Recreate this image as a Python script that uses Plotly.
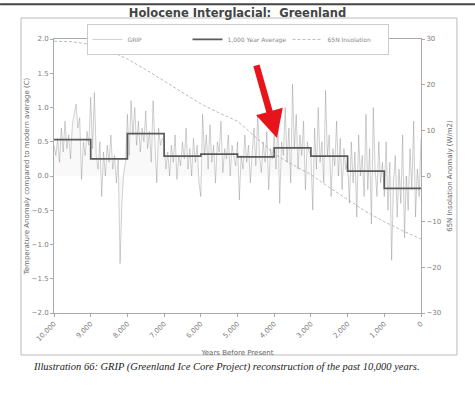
import plotly.graph_objects as go

# ---- data ----
years_grip = [10000 - 50 * i for i in range(201)]
grip = [
    # 10000-9050
    0.45, 0.3, 0.55, 0.2, 0.7, 0.35, 0.8, 0.4, 0.6, 0.25, 0.75, 0.9, 1.05, 0.7, 0.85, -0.05, 0.5, 0.3, 0.65, 0.45,
    # 9000-8050
    1.15, 0.4, 1.22, 0.3, 0.1, 0.5, -0.3, 0.35, 0.0, 0.45, 0.2, 0.6, 0.1, 0.3, -0.1, 0.25, -1.28, -0.4, 0.05, 0.2,
    # 8000-7050
    0.9, 0.3, 1.1, 0.6, 1.0, 0.45, 0.8, 0.35, 0.7, 0.5, 0.95, 0.4, 0.65, 0.2, 1.1, 0.5, -0.1, 0.7, 0.45, 0.55,
    # 7000-6050
    0.5, 0.1, 0.35, 0.0, 0.45, 0.2, 0.6, -0.05, 0.3, 0.15, 0.5, 0.25, 0.7, 0.1, 0.4, 0.0, 0.55, 0.2, 0.45, -0.1,
    # 6000-5050
    -0.3, 0.9, 0.3, 0.6, 0.1, 0.75, 0.2, 0.45, -0.1, 0.5, 0.35, 0.8, 0.05, 0.4, 0.25, 0.6, 0.0, 0.45, 0.3, 0.15,
    # 5000-4050
    0.5, -0.35, 0.3, 0.1, 0.6, 0.2, 0.45, -0.1, 0.35, 0.7, 0.15, 0.9, 0.3, 0.05, 0.5, 0.2, 0.65, -0.2, 0.4, 0.25,
    # 4000-3050
    0.6, 0.1, 0.85, -0.4, 0.5, 0.3, 1.0, 0.2, 0.7, -0.1, 1.34, 0.4, 0.9, 0.1, 0.6, 0.3, 0.8, -0.2, 0.5, 0.35,
    # 3000-2050
    0.3, -0.5, 0.7, 0.1, 1.0, 0.2, 0.5, -0.1, 1.25, 0.3, 0.6, -0.3, 0.4, 0.15, 0.8, 0.0, 0.55, -0.2, 0.4, 0.1,
    # 2000-1050
    0.2, -0.4, 0.5, -0.1, 0.35, -0.6, 0.6, 0.0, 0.3, -0.3, 0.9, -0.2, 0.4, -0.7, 1.0, 0.1, -0.3, 0.5, -0.1, 0.2,
    # 1000-50
    -0.3, 0.5, -0.5, 0.2, -1.23, -0.1, 0.3, -0.6, 0.1, -0.4, 0.6, -0.9, 0.0, -0.5, 0.4, -0.2, 0.8, -0.6, 0.1, -0.3,
    # 0
    0.55,
]

avg_years = [10000, 9000, 8000, 7000, 6000, 5000, 4000, 3000, 2000, 1000, 0]
avg_temp = [0.53, 0.25, 0.62, 0.29, 0.32, 0.28, 0.41, 0.29, 0.07, -0.18, -0.18]

ins_years = [10000, 9500, 9000, 8500, 8000, 7500, 7000, 6500, 6000, 5500, 5000,
             4500, 4000, 3500, 3000, 2500, 2000, 1500, 1000, 500, 0]
ins_vals = [29.5, 29.4, 28.8, 27.5, 25.6, 23.3, 20.8, 18.3, 15.8, 13.8, 12.0,
            8.5, 4.8, 2.5, 0.3, -2.5, -5.2, -7.8, -10.0, -12.0, -13.8]

x_ticks = [10000, 9000, 8000, 7000, 6000, 5000, 4000, 3000, 2000, 1000, 0]
x_ticktext = ["10,000", "9,000", "8,000", "7,000", "6,000", "5,000",
              "4,000", "3,000", "2,000", "1,000", "0"]

FONT = "DejaVu Sans"
TICKC = "#808080"
CAPTION = "Illustration 66: GRIP (Greenland Ice Core Project) reconstruction of the past 10,000 years."

fig = go.Figure()
# faint fill under the GRIP trace (no legend entry)
fig.add_trace(go.Scatter(
    x=years_grip, y=grip, mode="lines", showlegend=False, hoverinfo="skip",
    line=dict(width=0), fill="tozeroy", fillcolor="rgba(0,0,0,0.025)",
))
fig.add_trace(go.Scatter(
    x=years_grip, y=grip, name="GRIP", mode="lines",
    line=dict(color="rgba(100,100,100,0.5)", width=0.6),
))
fig.add_trace(go.Scatter(
    x=avg_years, y=avg_temp, name="1,000 Year Average", mode="lines",
    line=dict(color="#5a5a5a", width=1.7, shape="hv"),
))
fig.add_trace(go.Scatter(
    x=ins_years, y=ins_vals, name="65N Insolation", mode="lines", yaxis="y2",
    line=dict(color="#aaaaaa", width=0.8, dash="3px,2px"),
))

fig.add_annotation(
    x=3924, y=0.555, xref="x", yref="y", ax=-21, ay=-74,
    showarrow=True, arrowhead=2, arrowsize=0.85, arrowwidth=6.5,
    arrowcolor="#e8141b", text="",
)

fig.update_layout(
    width=475, height=397,
    margin=dict(l=54, r=54, t=39, b=84, autoexpand=False),
    paper_bgcolor="white", plot_bgcolor="white",
    font=dict(family=FONT, size=7, color=TICKC),
    title=dict(text="<b>Holocene Interglacial:  Greenland</b>",
               x=0.5, xanchor="center", y=0.967, yanchor="middle",
               font=dict(family=FONT, size=11.5, color="#444444")),
    showlegend=True,
    legend=dict(orientation="h", x=0.5, xanchor="center", y=1.055, yanchor="top",
                bordercolor="#cccccc", borderwidth=1, bgcolor="white",
                font=dict(size=6, color="#888888"),
                entrywidth=55, entrywidthmode="pixels",
                itemwidth=30, tracegroupgap=0),
    xaxis=dict(range=[10000, 0], tickvals=x_ticks, ticktext=x_ticktext,
               tickangle=-45, ticks="outside", ticklen=3, tickcolor="#aaaaaa",
               showline=True, linecolor="#aaaaaa", linewidth=1, mirror=True,
               showgrid=False, zeroline=False,
               title=dict(text="Years Before Present", standoff=7,
                          font=dict(size=7, color="#666666")),
               tickfont=dict(size=7, color=TICKC)),
    yaxis=dict(range=[-2, 2], dtick=0.5, tickformat=".1f",
               ticks="outside", ticklen=3, tickcolor="#aaaaaa",
               showline=True, linecolor="#aaaaaa", linewidth=1,
               showgrid=False, zeroline=False,
               title=dict(text="Temperature Anomaly compared to modern average (C)",
                          standoff=1, font=dict(size=7, color="#666666")),
               tickfont=dict(size=7, color=TICKC)),
    yaxis2=dict(range=[-30, 30], dtick=10, overlaying="y", side="right",
                ticks="outside", ticklen=3, tickcolor="#aaaaaa",
                showline=True, linecolor="#aaaaaa", linewidth=1,
                showgrid=False, zeroline=False,
                title=dict(text="65N Insolation Anomaly (W/m2)", standoff=6,
                           font=dict(size=7, color="#666666")),
                tickfont=dict(size=7, color=TICKC)),
)

# figure frame and scanned page edge
fig.add_shape(type="rect", xref="paper", yref="paper",
              x0=-0.0899, x1=1.098, y0=-0.1533, y1=1.0766,
              line=dict(color="#bbbbbb", width=1))
fig.add_shape(type="line", xref="paper", yref="paper",
              x0=-0.147, x1=1.147, y0=1.127, y1=1.127,
              line=dict(color="#444444", width=2))

fig.add_annotation(
    text="<i>" + CAPTION + "</i>",
    xref="paper", yref="paper", x=0.47, y=-0.197, xanchor="center", yanchor="middle",
    showarrow=False, font=dict(family="Liberation Serif", size=10.5, color="#222222"),
)

fig.write_html("out.html", config={"displayModeBar": False},
               post_script="document.body.style.margin='0';")
